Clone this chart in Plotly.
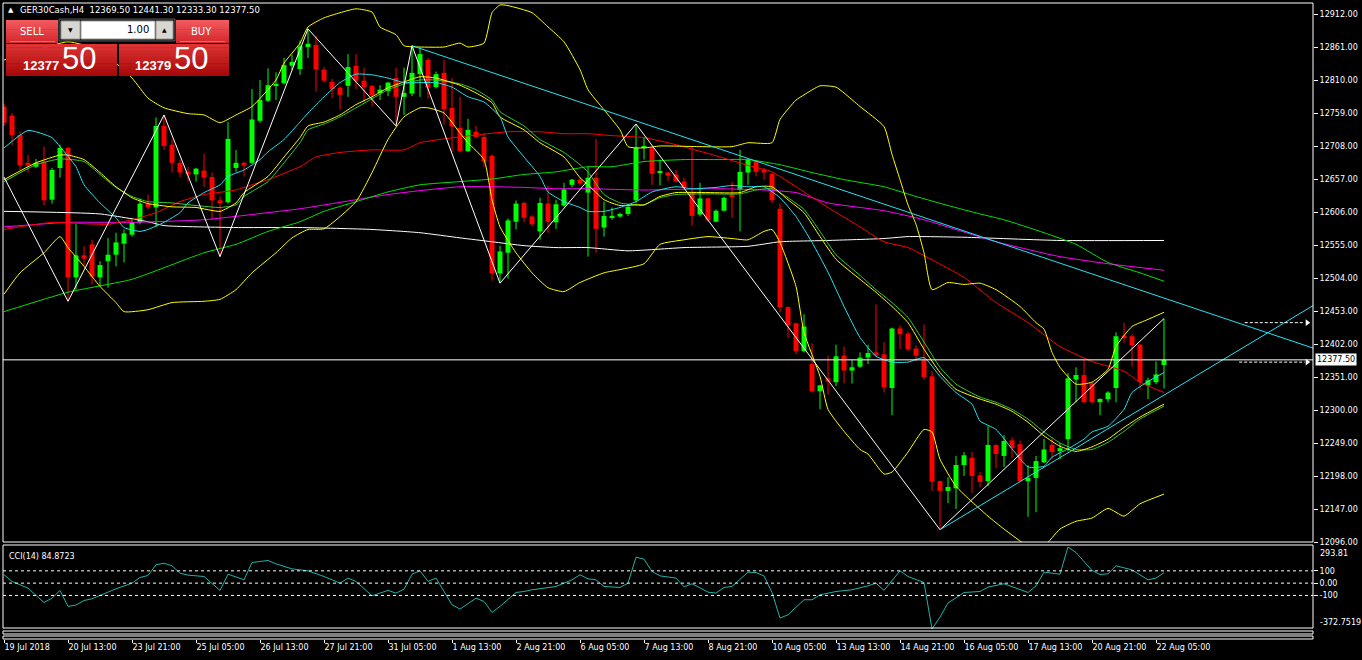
import plotly.graph_objects as go

W, H = 1362, 660
symbol = "GER30Cash,H4"
spread = 2.0

# ---- H4 candles, 19 Jul 05:00 .. 22 Aug 09:00 ----
opens = [12769, 12755, 12725, 12682, 12676, 12684, 12625, 12674, 12705, 12505,
         12539, 12556, 12505, 12530, 12540, 12557, 12571, 12590, 12619, 12613,
         12739, 12710, 12682, 12668, 12664, 12670, 12660, 12624, 12621, 12674,
         12682, 12682, 12747, 12778, 12801, 12805, 12832, 12827, 12861, 12864,
         12826, 12807, 12798, 12801, 12832, 12809, 12801, 12790, 12793, 12813,
         12784, 12789, 12819, 12841, 12799, 12821, 12767, 12736, 12700, 12730,
         12722, 12693, 12511, 12543, 12591, 12620, 12599, 12576, 12619, 12590,
         12616, 12648, 12656, 12636, 12659, 12582, 12597, 12599, 12603, 12624,
         12705, 12705, 12667, 12667, 12664, 12653, 12636, 12602, 12627, 12591,
         12608, 12633, 12640, 12667, 12685, 12671, 12665, 12611, 12459, 12434,
         12391, 12371, 12329, 12349, 12343, 12384, 12361, 12367, 12381, 12389,
         12386, 12334, 12426, 12418, 12395, 12377, 12352, 12190, 12175, 12179,
         12215, 12226, 12199, 12190, 12246, 12229, 12253, 12247, 12190, 12195,
         12219, 12246, 12238, 12255, 12347, 12354, 12341, 12312, 12317, 12334,
         12415, 12414, 12401, 12338, 12343, 12369.5]
highs = [12773, 12759, 12730, 12694, 12688, 12707, 12674, 12710, 12707, 12588,
         12553, 12563, 12530, 12566, 12574, 12579, 12597, 12627, 12633, 12752,
         12756, 12718, 12687, 12676, 12674, 12696, 12667, 12630, 12745, 12702,
         12684, 12796, 12810, 12828, 12822, 12844, 12849, 12871, 12889, 12878,
         12830, 12812, 12800, 12850, 12850, 12829, 12802, 12802, 12807, 12829,
         12829, 12863, 12860, 12844, 12823, 12841, 12813, 12784, 12750, 12739,
         12728, 12695, 12554, 12596, 12624, 12622, 12601, 12628, 12647, 12625,
         12651, 12657, 12659, 12676, 12719, 12622, 12613, 12605, 12616, 12742,
         12722, 12707, 12687, 12668, 12671, 12659, 12707, 12651, 12628, 12610,
         12630, 12653, 12702, 12688, 12686, 12674, 12666, 12619, 12460, 12435,
         12448, 12403, 12339, 12384, 12401, 12398, 12378, 12389, 12401, 12463,
         12405, 12427, 12431, 12421, 12400, 12432, 12360, 12191, 12196, 12229,
         12235, 12235, 12204, 12275, 12247, 12261, 12258, 12253, 12215, 12229,
         12255, 12258, 12249, 12357, 12366, 12377, 12343, 12318, 12329, 12420,
         12435, 12417, 12402, 12350, 12375, 12441.3]
lows = [12739, 12710, 12671, 12667, 12674, 12616, 12619, 12659, 12468, 12486,
        12523, 12494, 12491, 12489, 12522, 12528, 12568, 12587, 12610, 12583,
        12702, 12667, 12660, 12653, 12653, 12645, 12594, 12537, 12619, 12668,
        12661, 12680, 12744, 12776, 12779, 12803, 12825, 12818, 12844, 12792,
        12806, 12782, 12764, 12784, 12796, 12776, 12769, 12779, 12785, 12739,
        12756, 12785, 12784, 12781, 12797, 12741, 12699, 12698, 12699, 12721,
        12676, 12500, 12496, 12503, 12579, 12590, 12584, 12563, 12574, 12580,
        12614, 12644, 12647, 12537, 12543, 12568, 12594, 12597, 12600, 12620,
        12687, 12648, 12647, 12654, 12652, 12641, 12585, 12599, 12591, 12590,
        12607, 12597, 12576, 12648, 12661, 12656, 12620, 12451, 12411, 12386,
        12389, 12327, 12301, 12324, 12337, 12341, 12341, 12365, 12371, 12383,
        12327, 12292, 12394, 12391, 12375, 12347, 12175, 12115, 12156, 12147,
        12198, 12172, 12181, 12182, 12210, 12212, 12226, 12189, 12135, 12142,
        12218, 12224, 12224, 12236, 12312, 12311, 12310, 12292, 12312, 12312,
        12404, 12367, 12332, 12317, 12340, 12333.3]
closes = [12744, 12725, 12678, 12678, 12682, 12624, 12671, 12705, 12505, 12539,
          12534, 12506, 12524, 12540, 12559, 12573, 12590, 12619, 12613, 12739,
          12708, 12682, 12667, 12664, 12673, 12659, 12624, 12621, 12719, 12682,
          12678, 12749, 12779, 12802, 12804, 12833, 12838, 12862, 12866, 12826,
          12809, 12796, 12787, 12830, 12809, 12799, 12786, 12795, 12806, 12784,
          12790, 12821, 12850, 12798, 12819, 12765, 12738, 12700, 12733, 12722,
          12684, 12511, 12545, 12593, 12619, 12597, 12587, 12620, 12591, 12618,
          12641, 12656, 12650, 12659, 12580, 12600, 12600, 12603, 12614, 12705,
          12708, 12665, 12668, 12662, 12653, 12644, 12600, 12627, 12593, 12608,
          12628, 12630, 12668, 12687, 12668, 12667, 12624, 12459, 12431, 12391,
          12429, 12329, 12338, 12344, 12383, 12361, 12366, 12381, 12388, 12384,
          12335, 12426, 12417, 12394, 12384, 12351, 12189, 12175, 12181, 12215,
          12230, 12198, 12189, 12246, 12232, 12252, 12241, 12190, 12195, 12221,
          12239, 12235, 12241, 12349, 12354, 12312, 12312, 12317, 12327, 12414,
          12412, 12400, 12343, 12346, 12355, 12377.5]

time_labels = ["19 Jul 2018", "20 Jul 13:00", "23 Jul 21:00", "25 Jul 05:00",
               "26 Jul 13:00", "27 Jul 21:00", "31 Jul 05:00", "1 Aug 13:00",
               "2 Aug 21:00", "6 Aug 05:00", "7 Aug 13:00", "8 Aug 21:00",
               "10 Aug 05:00", "13 Aug 13:00", "14 Aug 21:00", "16 Aug 05:00",
               "17 Aug 13:00", "20 Aug 21:00", "22 Aug 05:00"]
bars_per_label = 8

price_ticks = [12912, 12861, 12810, 12759, 12708, 12657, 12606, 12555, 12504,
               12453, 12402, 12351, 12300, 12249, 12198, 12147, 12096]

# ---- indicator readings (bar index, value) ----
ma_cyan_x = [0, 3, 6, 7, 9, 10, 12, 14, 15, 17, 18, 20, 22, 23, 25, 27, 28, 30, 32, 33,
             35, 37, 38, 40, 42, 44, 46, 48, 50, 52, 54, 56, 58, 60, 62, 63, 65, 67, 68,
             70, 72, 73, 75, 77, 79, 81, 84, 86, 89, 91, 93, 95, 97, 99, 101, 103, 105,
             107, 109, 111, 113, 115, 117, 119, 121, 122, 124, 126, 128, 130, 131, 133,
             135, 136, 138, 140, 141, 143, 145]
ma_cyan_y = [12705, 12732, 12721, 12707, 12676, 12648, 12620, 12597, 12582, 12576,
             12579, 12590, 12605, 12620, 12636, 12648, 12661, 12671, 12687, 12699,
             12718, 12745, 12759, 12784, 12806, 12819, 12818, 12813, 12806, 12806,
             12806, 12799, 12784, 12776, 12753, 12722, 12691, 12661, 12637, 12622,
             12613, 12607, 12607, 12613, 12622, 12637, 12645, 12642, 12644, 12647,
             12645, 12645, 12628, 12599, 12559, 12513, 12460, 12412, 12383, 12374,
             12374, 12381, 12352, 12327, 12309, 12283, 12270, 12240, 12212, 12213,
             12227, 12240, 12255, 12266, 12275, 12301, 12327, 12344, 12358]

bb_mid_x = [0, 4, 7, 8, 10, 12, 14, 16, 18, 21, 24, 27, 29, 30, 33, 35, 37, 38, 40, 42,
            44, 46, 48, 50, 52, 54, 57, 59, 61, 62, 65, 67, 70, 72, 73, 75, 77, 79, 80,
            82, 84, 88, 92, 94, 96, 98, 100, 102, 104, 107, 109, 111, 113, 115, 117,
            119, 122, 124, 126, 128, 130, 132, 134, 136, 138, 140, 142, 145]
bb_mid_y = [12656, 12682, 12694, 12694, 12687, 12667, 12645, 12628, 12619, 12614,
            12613, 12607, 12620, 12636, 12661, 12691, 12721, 12739, 12745, 12756,
            12772, 12784, 12798, 12807, 12815, 12813, 12802, 12790, 12775, 12753,
            12733, 12713, 12691, 12659, 12648, 12625, 12616, 12617, 12617, 12630,
            12636, 12636, 12636, 12645, 12645, 12625, 12605, 12568, 12533, 12502,
            12482, 12460, 12435, 12394, 12358, 12332, 12317, 12309, 12298, 12281,
            12260, 12244, 12236, 12243, 12255, 12273, 12289, 12309]

ma_green_x = [0, 4, 7, 10, 12, 14, 16, 18, 21, 24, 27, 29, 30, 33, 35, 37, 38, 40, 42,
              44, 46, 48, 50, 52, 54, 57, 59, 61, 62, 65, 67, 70, 72, 73, 75, 77, 79,
              80, 82, 84, 88, 92, 94, 96, 98, 100, 102, 104, 107, 109, 111, 113, 115,
              117, 119, 122, 124, 126, 128, 130, 132, 134, 136, 138, 140, 142, 145]
ma_green_y = [12653, 12679, 12688, 12684, 12664, 12644, 12630, 12622, 12620, 12616,
              12613, 12617, 12630, 12653, 12682, 12713, 12733, 12742, 12753, 12767,
              12781, 12795, 12804, 12810, 12810, 12804, 12795, 12779, 12761, 12739,
              12718, 12698, 12679, 12668, 12633, 12620, 12617, 12617, 12628, 12633,
              12634, 12634, 12640, 12642, 12628, 12610, 12576, 12540, 12508, 12486,
              12466, 12443, 12405, 12366, 12340, 12320, 12312, 12301, 12286, 12266,
              12249, 12239, 12239, 12250, 12267, 12286, 12306]

ma_red_x = [0, 6, 10, 13, 16, 19, 22, 25, 29, 31, 33, 37, 39, 42, 46, 50, 52, 55, 59,
            63, 67, 70, 73, 76, 80, 84, 89, 93, 96, 99, 103, 107, 110, 113, 116, 120,
            124, 128, 132, 136, 140, 142, 145]
ma_red_y = [12579, 12590, 12588, 12587, 12594, 12605, 12622, 12633, 12640, 12648,
            12656, 12676, 12691, 12698, 12702, 12702, 12713, 12719, 12725, 12730,
            12730, 12727, 12727, 12724, 12721, 12710, 12693, 12678, 12668, 12645,
            12613, 12583, 12560, 12551, 12532, 12505, 12466, 12435, 12398, 12375,
            12360, 12343, 12327]

ma_lime_x = [0, 8, 16, 25, 29, 33, 37, 40, 44, 48, 52, 57, 61, 65, 69, 73, 76, 80, 85,
             89, 93, 97, 101, 105, 110, 114, 118, 122, 125, 130, 134, 138, 142, 145]
ma_lime_y = [12452, 12482, 12502, 12543, 12556, 12576, 12591, 12607, 12622, 12637,
             12648, 12653, 12657, 12664, 12668, 12676, 12676, 12684, 12687, 12687,
             12687, 12679, 12667, 12656, 12645, 12630, 12616, 12603, 12594, 12574,
             12556, 12528, 12512, 12499]

ma_magenta_x = [0, 8, 16, 25, 33, 37, 44, 48, 52, 57, 61, 65, 69, 73, 80, 89, 95, 99,
                103, 110, 115, 124, 132, 138, 145]
ma_magenta_y = [12583, 12590, 12590, 12594, 12605, 12611, 12625, 12633, 12639, 12645,
                12645, 12644, 12642, 12642, 12640, 12642, 12640, 12636, 12620, 12608,
                12594, 12560, 12537, 12526, 12516]

ma_white_x = [0, 12, 18, 20, 29, 37, 46, 52, 57, 61, 65, 69, 73, 78, 85, 93, 97, 103,
              110, 113, 120, 132, 145]
ma_white_y = [12607, 12603, 12591, 12585, 12582, 12582, 12579, 12574, 12566, 12560,
              12554, 12551, 12551, 12546, 12551, 12553, 12560, 12562, 12565, 12568,
              12567, 12562, 12562]

bb_up_x = [0, 4, 8, 12, 16, 18, 20, 23, 25, 27, 29, 31, 34, 35, 37, 38, 40, 42, 44, 46,
           47, 49, 50, 52, 55, 57, 58, 60, 61, 62, 63, 66, 68, 70, 72, 73, 75, 77, 78,
           80, 82, 87, 91, 93, 96, 97, 99, 100, 102, 104, 105, 107, 110, 111, 112, 113,
           114, 115, 116, 118, 120, 122, 124, 127, 129, 130, 131, 132, 134, 136, 138,
           139, 141, 143, 145]
bb_up_y = [12841, 12856, 12869, 12856, 12813, 12782, 12767, 12758, 12756, 12744,
           12756, 12769, 12810, 12836, 12867, 12892, 12906, 12914, 12920, 12915,
           12892, 12880, 12863, 12861, 12861, 12867, 12861, 12867, 12914, 12926,
           12925, 12914, 12892, 12869, 12826, 12795, 12764, 12733, 12707, 12705,
           12708, 12707, 12707, 12713, 12713, 12749, 12779, 12787, 12801, 12799,
           12790, 12769, 12738, 12695, 12656, 12617, 12587, 12543, 12486, 12497,
           12494, 12496, 12486, 12460, 12435, 12425, 12389, 12366, 12340, 12343,
           12363, 12398, 12429, 12440, 12451]

bb_low_x = [0, 2, 5, 7, 8, 10, 12, 14, 15, 18, 21, 25, 27, 29, 31, 34, 36, 38, 40, 44,
            46, 48, 50, 52, 53, 55, 57, 58, 60, 61, 62, 64, 66, 68, 70, 72, 75, 77, 80,
            82, 85, 88, 91, 93, 95, 96, 97, 99, 100, 102, 103, 105, 107, 108, 110, 111,
            113, 115, 116, 117, 119, 121, 123, 125, 128, 130, 132, 134, 136, 138, 140,
            142, 145]
bb_low_y = [12479, 12512, 12543, 12568, 12551, 12522, 12491, 12466, 12452, 12455,
            12466, 12468, 12471, 12486, 12512, 12543, 12566, 12579, 12580, 12622,
            12667, 12718, 12753, 12767, 12767, 12759, 12728, 12713, 12687, 12625,
            12583, 12543, 12512, 12489, 12483, 12497, 12512, 12517, 12526, 12556,
            12563, 12568, 12565, 12563, 12576, 12579, 12559, 12491, 12420, 12352,
            12301, 12267, 12239, 12232, 12201, 12204, 12235, 12270, 12266, 12224,
            12182, 12158, 12136, 12116, 12090, 12090, 12116, 12128, 12133, 12148,
            12136, 12155, 12170]

zigzag_x = [0, 8, 20, 27, 38, 49, 51, 62, 79, 117, 145]
zigzag_y = [12660, 12468, 12756, 12537, 12889, 12739, 12863, 12496, 12742, 12115, 12441.3]

trend_down = [(51, 12863), (145, 12473)]
trend_up = [(117, 12115), (145, 12323)]
alert_levels = [12435, 12374]

cci_x = [0, 1, 3, 5, 6, 7, 8, 9, 10, 11, 13, 14, 16, 17, 18, 19, 20, 21, 22, 23, 25, 27,
         28, 30, 31, 33, 34, 36, 38, 40, 42, 43, 44, 46, 48, 49, 50, 51, 52, 53, 54, 56,
         57, 59, 60, 61, 62, 64, 65, 66, 69, 71, 72, 73, 74, 75, 77, 78, 79, 80, 81, 82,
         84, 85, 86, 88, 89, 90, 91, 93, 94, 95, 96, 97, 98, 100, 101, 102, 104, 106,
         108, 109, 110, 112, 113, 115, 116, 117, 118, 120, 122, 123, 125, 128, 129, 130,
         132, 133, 134, 136, 137, 138, 139, 141, 143, 144, 145]
cci_y = [68, 14, -41, -157, -122, -59, -189, -178, -141, -127, -73, -46, 0, 46, 62, 149,
         162, 141, 81, 65, 54, -59, 73, 27, 168, 184, 157, 116, 100, 54, 0, 41, 14, -103,
         -59, -81, -49, 73, 100, 14, 41, -176, -211, -122, -149, -238, -189, -76, -68,
         -54, -27, 27, 68, 35, 27, -27, -35, 0, 211, 195, 95, 59, 41, -30, -5, -73, -81,
         -35, -27, 89, 86, 59, -76, -284, -257, -135, -135, -95, -68, -54, -22, 0, -59,
         100, 54, 5, -372.7519, -276, -162, -76, -68, -32, -5, -76, -22, 89, 73, 293.81,
         249, 103, 70, 76, 141, 108, 27, 41, 84.8723]


def px(x):
    return x / W


def py(y):
    return 1 - y / H


def mix(c1, c2, t):
    a = [int(c1[i:i + 2], 16) for i in (1, 3, 5)]
    b = [int(c2[i:i + 2], 16) for i in (1, 3, 5)]
    return "#%02x%02x%02x" % tuple(round(a[k] + (b[k] - a[k]) * t) for k in range(3))


fig = go.Figure()
n = len(closes)
bars = list(range(n))
is_up = [c >= o for o, c in zip(opens, closes)]

# wicks
for flag, col in ((True, "#00ff00"), (False, "#ff0000")):
    wx, wy = [], []
    for i in bars:
        if is_up[i] == flag:
            wx += [i, i, None]
            wy += [lows[i], highs[i], None]
    fig.add_trace(go.Scatter(x=wx, y=wy, mode="lines", line=dict(color=col, width=1),
                             hoverinfo="skip"))

# bodies
fig.add_trace(go.Bar(
    x=bars,
    y=[max(abs(c - o), 1.3) for o, c in zip(opens, closes)],
    base=[min(o, c) for o, c in zip(opens, closes)],
    width=0.62,
    marker=dict(color=["#00ff00" if u else "#ff0000" for u in is_up], line=dict(width=0)),
    hoverinfo="skip",
))


def add_line(x, y, color, shape="spline", xa="x", ya="y", dash="solid"):
    fig.add_trace(go.Scatter(x=x, y=y, mode="lines", xaxis=xa, yaxis=ya,
                             line=dict(color=color, width=1, shape=shape, smoothing=0.5, dash=dash),
                             hoverinfo="skip"))


add_line(ma_white_x, ma_white_y, "#ffffff")
add_line(ma_magenta_x, ma_magenta_y, "#ff00ff")
add_line(ma_lime_x, ma_lime_y, "#00e000")
add_line(ma_red_x, ma_red_y, "#ff0000")
add_line(bb_up_x, bb_up_y, "#ffff00")
add_line(bb_low_x, bb_low_y, "#ffff00")
add_line(ma_green_x, ma_green_y, "#32cd32")
add_line(bb_mid_x, bb_mid_y, "#ffff00")
add_line(ma_cyan_x, ma_cyan_y, "#22e4f2")
add_line(zigzag_x, zigzag_y, "#ffffff", shape="linear")

# trend lines as rays to the right edge
x_far = 170
for (x1, y1), (x2, y2) in (trend_down, trend_up):
    k = (y2 - y1) / (x2 - x1)
    add_line([x1, x_far], [y1, y1 + k * (x_far - x1)], "#22e4f2", shape="linear")

# dashed price arrows at the right
for lvl, start in zip(alert_levels, (155.1, 154.4)):
    add_line([start, 162.6], [lvl, lvl], "#ffffff", shape="linear", dash="3px,2px")
    fig.add_trace(go.Scatter(x=[162.9], y=[lvl], mode="markers",
                             marker=dict(symbol="triangle-right", size=6, color="white"),
                             hoverinfo="skip"))

# CCI
add_line(cci_x, cci_y, "#20b2aa", shape="linear", xa="x2", ya="y2")

axis_font = dict(family="DejaVu Sans", size=8, color="white")
bid = closes[-1]
ask = bid + spread

shapes = []
white_line = dict(color="white", width=1)
for y0, y1 in ((3, 542), (545, 628), (631, 634), (636, 639)):
    shapes.append(dict(type="rect", xref="paper", yref="paper", x0=px(3), x1=px(1313),
                       y0=py(y1), y1=py(y0), line=white_line, layer="above"))
shapes.append(dict(type="line", xref="paper", yref="y", x0=px(3), x1=px(1313),
                   y0=bid, y1=bid, line=white_line))
for lvl in (100, 0, -100):
    shapes.append(dict(type="line", xref="paper", yref="y2", x0=px(3), x1=px(1313),
                       y0=lvl, y1=lvl, line=dict(color="white", width=1, dash="3px,3px")))


def box(x0, y0, x1, y1, fill, line=None):
    shapes.append(dict(type="rect", xref="paper", yref="paper", x0=px(x0), x1=px(x1),
                       y0=py(y1), y1=py(y0), fillcolor=fill, layer="above",
                       line=dict(color=line or fill, width=1 if line else 0)))


def grad_box(x0, y0, x1, y1, top, bottom, steps=10):
    for k in range(steps):
        ya = y0 + (y1 - y0) * k / steps
        yb = y0 + (y1 - y0) * (k + 1) / steps + 0.6
        box(x0, ya, x1, min(yb, y1), mix(top, bottom, k / (steps - 1)))


# one-click trading panel
grad_box(6, 20, 58, 43, "#f25a5e", "#d6282d")
grad_box(176, 20, 229, 43, "#f25a5e", "#d6282d")
box(10, 41, 55, 41.6, "#f7a3a3")
box(180, 41, 225, 41.6, "#f7a3a3")
box(59, 19, 175, 41, "#101010", "#5a5a5a")
box(61, 21, 80, 39, "#d8d6d0", "#9a9a9a")
box(81, 21, 155, 39, "#ffffff", "#9a9a9a")
box(156, 21, 173, 39, "#d8d6d0", "#9a9a9a")
grad_box(6, 44, 117, 76, "#dc3232", "#a80a0a")
grad_box(119, 44, 229, 76, "#dc3232", "#a80a0a")

annotations = []


def text(x, y, s, size=8, color="white", family="DejaVu Sans", anchor="left"):
    annotations.append(dict(x=px(x), y=py(y), xref="paper", yref="paper", text=s,
                            showarrow=False, xanchor=anchor, yanchor="middle",
                            font=dict(family=family, size=size, color=color)))


text(6, 10, "▲", size=7)
text(18, 10, f"{symbol}  {opens[-1]:.2f} {highs[-1]:.2f} {lows[-1]:.2f} {closes[-1]:.2f}", size=8.5)
text(32, 31, "SELL", size=10, anchor="center")
text(202, 31, "BUY", size=10, anchor="center")
text(151, 30, "1.00", size=10, color="black", anchor="right")
text(70, 30, "▼", size=6, color="black", anchor="center")
text(164, 30, "▲", size=6, color="black", anchor="center")
for big_x, small_x, price in ((79, 41, bid), (191, 153, ask)):
    text(small_x, 65, f"<b>{int(price)}</b>", size=13, family="Liberation Sans", anchor="center")
    text(big_x, 58, f"{round((price % 1) * 100):02d}", size=31, family="Liberation Sans",
         anchor="center")
text(7, 556, f"CCI(14) {cci_y[-1]:.4f}", size=8)

annotations.append(dict(x=px(1315), y=bid, xref="paper", yref="y", text=f"{bid:.2f}",
                        showarrow=False, xanchor="left", yanchor="middle", bgcolor="white",
                        borderpad=1, font=dict(family="DejaVu Sans", size=8, color="black")))
annotations.append(dict(x=px(1318), y=max(cci_y), xref="paper", yref="y2",
                        text=f"{max(cci_y):.2f}", showarrow=False, xanchor="left",
                        yanchor="top", font=axis_font))
annotations.append(dict(x=px(1318), y=min(cci_y), xref="paper", yref="y2",
                        text=f"{min(cci_y):.4f}", showarrow=False, xanchor="left",
                        yanchor="bottom", font=axis_font))

x_range = [-0.125, 163.625]
fig.update_layout(
    width=W, height=H, margin=dict(l=0, r=0, t=0, b=0), autosize=False,
    paper_bgcolor="black", plot_bgcolor="black", showlegend=False,
    barmode="overlay", hovermode=False, dragmode=False,
    xaxis=dict(domain=[px(3), px(1313)], range=x_range, showticklabels=False,
               showgrid=False, zeroline=False, ticks="", anchor="y"),
    yaxis=dict(domain=[py(542), py(3)], range=[12096, 12929], side="right", anchor="x",
               tickvals=price_ticks, ticktext=[f"{v:.2f}" for v in price_ticks],
               ticks="outside", ticklen=4, tickcolor="white", tickfont=axis_font,
               showgrid=False, zeroline=False, showline=False, automargin=False),
    xaxis2=dict(domain=[px(3), px(1313)], range=x_range, matches="x", anchor="free",
                position=py(639), ticks="outside", ticklen=3, tickcolor="white",
                tickvals=[i * bars_per_label for i in range(len(time_labels))],
                ticktext=time_labels, ticklabelposition="outside right",
                tickfont=axis_font, showgrid=False, zeroline=False, automargin=False),
    yaxis2=dict(domain=[py(629), py(547)], range=[min(cci_y), max(cci_y)], side="right",
                anchor="x2", tickvals=[100, 0, -100], ticktext=["100", "0.00", "-100"],
                ticks="outside", ticklen=4, tickcolor="white", tickfont=axis_font,
                showgrid=False, zeroline=False, automargin=False),
    shapes=shapes,
    annotations=annotations,
)

# page body margin off so the chart sits at the window's top-left corner
fig.write_html("out.html", config={"displayModeBar": False},
               post_script="document.body.style.margin='0';document.body.style.background='black';")
